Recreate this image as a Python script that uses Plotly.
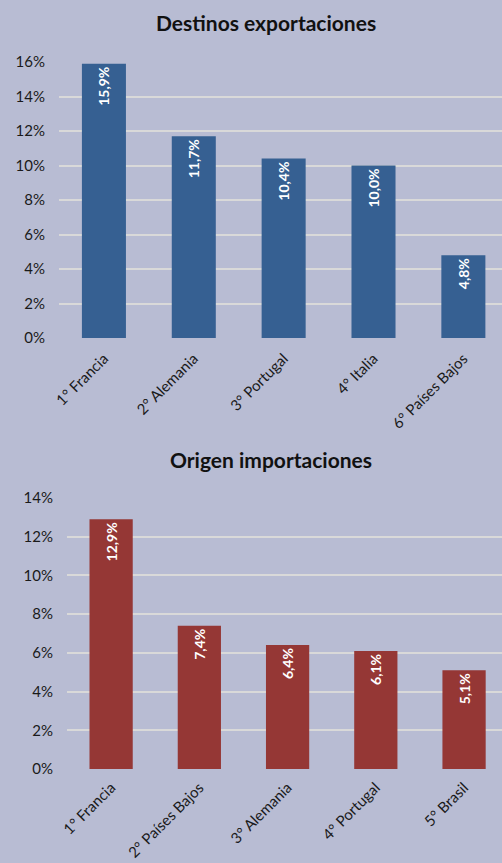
import plotly.graph_objects as go

exp_cats = ["1° Francia", "2° Alemania", "3° Portugal", "4° Italia", "6° Países Bajos"]
exp_vals = [15.9, 11.7, 10.4, 10.0, 4.8]
imp_cats = ["1° Francia", "2° Países Bajos", "3° Alemania", "4° Portugal", "5° Brasil"]
imp_vals = [12.9, 7.4, 6.4, 6.1, 5.1]

exp_ticks = [0, 2, 4, 6, 8, 10, 12, 14, 16]
imp_ticks = [0, 2, 4, 6, 8, 10, 12, 14]

BG = "#B8BCD3"
BLUE = "#366092"
RED = "#953735"
GRID = "#D9D9D9"
FONT = "Lato, 'Open Sans', sans-serif"

def lab(v):
    return f"{v:.1f}".replace(".", ",") + "%"

fig = go.Figure()
fig.add_trace(go.Bar(
    x=exp_cats, y=exp_vals, xaxis="x", yaxis="y",
    marker=dict(color=BLUE, line=dict(width=0)), width=0.49,
    text=[lab(v) for v in exp_vals], textposition="inside",
    insidetextanchor="end", textangle=-90,
    textfont=dict(color="white", size=14, family=FONT, weight="bold"),
    cliponaxis=False, showlegend=False, hoverinfo="skip"))
fig.add_trace(go.Bar(
    x=imp_cats, y=imp_vals, xaxis="x2", yaxis="y2",
    marker=dict(color=RED, line=dict(width=0)), width=0.49,
    text=[lab(v) for v in imp_vals], textposition="inside",
    insidetextanchor="end", textangle=-90,
    textfont=dict(color="white", size=14, family=FONT, weight="bold"),
    cliponaxis=False, showlegend=False, hoverinfo="skip"))

H = 863.0
W = 502.0
yfont = dict(family=FONT, size=15, color="#1a1a1a")
xfont = dict(family=FONT, size=15, color="#1a1a1a")

fig.update_layout(
    width=502, height=863,
    margin=dict(l=0, r=0, t=0, b=0, autoexpand=False),
    paper_bgcolor=BG, plot_bgcolor=BG,
    font=dict(family=FONT),
    xaxis=dict(domain=[59 / W, 1], range=[-0.5, 4.43], tickangle=-45,
               tickfont=xfont, showgrid=False, zeroline=False, showline=False,
               ticks="", anchor="y", automargin=False, ticklabelstandoff=8),
    yaxis=dict(domain=[(H - 338) / H, (H - 62) / H], range=[0, 16],
               tickvals=exp_ticks, ticktext=[f"{t}%" for t in exp_ticks],
               tickfont=yfont, showgrid=True, gridcolor=GRID, gridwidth=1.5,
               zeroline=False, showline=False, ticks="", anchor="x",
               automargin=False, ticklabelstandoff=13),
    xaxis2=dict(domain=[67 / W, 1], range=[-0.5, 4.43], tickangle=-45,
                tickfont=xfont, showgrid=False, zeroline=False, showline=False,
                ticks="", anchor="y2", automargin=False, ticklabelstandoff=6),
    yaxis2=dict(domain=[(H - 769) / H, (H - 498) / H], range=[0, 14],
                tickvals=imp_ticks, ticktext=[f"{t}%" for t in imp_ticks],
                tickfont=yfont, showgrid=True, gridcolor=GRID, gridwidth=1.5,
                zeroline=False, showline=False, ticks="", anchor="x2",
                automargin=False, ticklabelstandoff=13),
    annotations=[
        dict(text="<b>Destinos exportaciones</b>", x=266 / W, y=(H - 22) / H,
             xref="paper", yref="paper", showarrow=False, yanchor="middle",
             font=dict(family=FONT, size=21, color="#111")),
        dict(text="<b>Origen importaciones</b>", x=271 / W, y=(H - 459) / H,
             xref="paper", yref="paper", showarrow=False, yanchor="middle",
             font=dict(family=FONT, size=21, color="#111")),
    ],
)

fig.write_html("out.html", config={"displayModeBar": False},
               post_script="document.body.style.margin='0';")
